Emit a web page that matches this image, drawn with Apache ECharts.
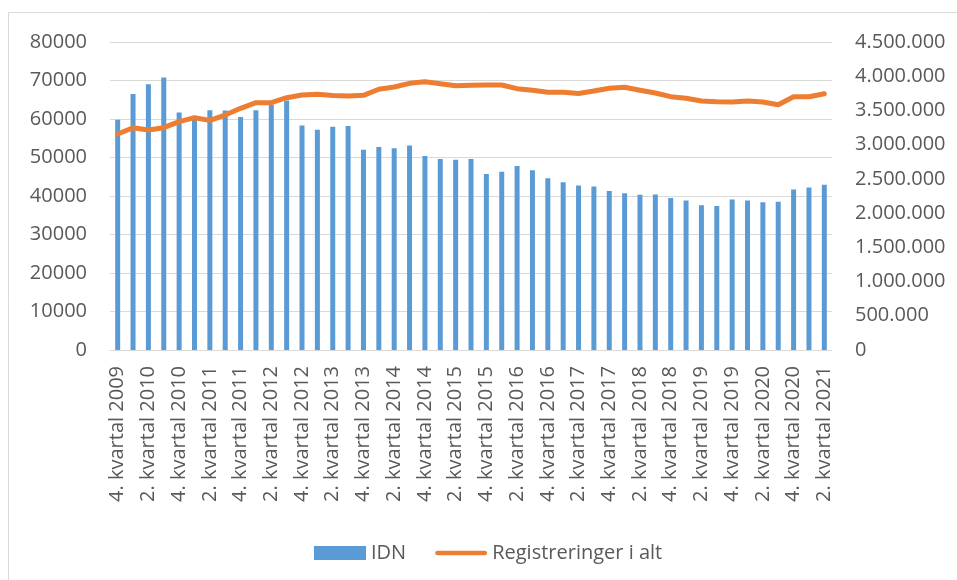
<!DOCTYPE html>
<html>
<head>
<meta charset="utf-8">
<script src="https://cdn.jsdelivr.net/npm/echarts@6/dist/echarts.min.js"></script>
<style>
    html, body { margin: 0; padding: 0; background: #fff; }
    #main { width: 957px; height: 580px; }
</style>
</head>
<body>
<div id="main"></div>
<script>
// kvartaler, 4. kvartal 2009 - 2. kvartal 2021
var kvartaler = [
    '4. kvartal 2009',
    '1. kvartal 2010', '2. kvartal 2010', '3. kvartal 2010', '4. kvartal 2010',
    '1. kvartal 2011', '2. kvartal 2011', '3. kvartal 2011', '4. kvartal 2011',
    '1. kvartal 2012', '2. kvartal 2012', '3. kvartal 2012', '4. kvartal 2012',
    '1. kvartal 2013', '2. kvartal 2013', '3. kvartal 2013', '4. kvartal 2013',
    '1. kvartal 2014', '2. kvartal 2014', '3. kvartal 2014', '4. kvartal 2014',
    '1. kvartal 2015', '2. kvartal 2015', '3. kvartal 2015', '4. kvartal 2015',
    '1. kvartal 2016', '2. kvartal 2016', '3. kvartal 2016', '4. kvartal 2016',
    '1. kvartal 2017', '2. kvartal 2017', '3. kvartal 2017', '4. kvartal 2017',
    '1. kvartal 2018', '2. kvartal 2018', '3. kvartal 2018', '4. kvartal 2018',
    '1. kvartal 2019', '2. kvartal 2019', '3. kvartal 2019', '4. kvartal 2019',
    '1. kvartal 2020', '2. kvartal 2020', '3. kvartal 2020', '4. kvartal 2020',
    '1. kvartal 2021', '2. kvartal 2021'
];

// IDN (venstre akse)
var idn = [
    59800, 66500, 69000, 70800, 61700, 60200, 62300, 62200, 60500, 62300,
    63700, 64800, 58300, 57200, 58000, 58200, 52000, 52700, 52400, 53100,
    50400, 49600, 49400, 49600, 45700, 46300, 47800, 46700, 44600, 43600,
    42700, 42500, 41300, 40700, 40300, 40400, 39500, 38800, 37600, 37400,
    39100, 38800, 38400, 38500, 41700, 42200, 42900
];

// Registreringer i alt (høyre akse)
var registreringer = [
    3155000, 3248000, 3214000, 3248000, 3336000, 3394000, 3355000, 3433000, 3531000, 3614000,
    3614000, 3686000, 3726000, 3735000, 3720000, 3711000, 3721000, 3809000, 3842000, 3896000,
    3920000, 3891000, 3862000, 3867000, 3872000, 3872000, 3818000, 3794000, 3765000, 3765000,
    3748000, 3784000, 3823000, 3838000, 3794000, 3755000, 3701000, 3677000, 3638000, 3628000,
    3623000, 3638000, 3623000, 3584000, 3701000, 3701000, 3745000
];

var tekstFarge = '#595959';
var font = 'Open Sans';

var myChart = echarts.init(document.getElementById('main'));

var option = {
    animation: false,
    textStyle: { fontFamily: font },
    graphic: [{
        type: 'rect',
        shape: { x: 8.5, y: 12.5, width: 1200, height: 1000 },
        style: { fill: 'none', stroke: '#d9d9d9', lineWidth: 1 }
    }],
    grid: { left: 110, right: 125, top: 42, bottom: 230 },
    legend: {
        left: 309,
        top: 538,
        itemWidth: 52,
        itemHeight: 14,
        itemGap: 29,
        symbolKeepAspect: true,
        textStyle: { color: tekstFarge, fontSize: 20, fontFamily: font },
        data: [
            { name: 'IDN', icon: 'rect' },
            {
                name: 'Registreringer i alt',
                // tykk strek med runde ender som i Excel
                icon: 'path://M2.5,0 L54.5,0 A2.5,2.5 0 0 1 54.5,5 L2.5,5 A2.5,2.5 0 0 1 2.5,0 Z',
                itemStyle: { color: '#ED7D31' }
            }
        ]
    },
    xAxis: {
        type: 'category',
        data: kvartaler,
        axisTick: { show: false },
        axisLine: { lineStyle: { color: '#d9d9d9', width: 1 } },
        axisLabel: {
            rotate: 90,
            interval: 1,
            margin: 16,
            color: tekstFarge,
            fontSize: 20,
            fontFamily: font
        }
    },
    yAxis: [{
        type: 'value',
        min: 0,
        max: 80000,
        interval: 10000,
        axisLine: { show: false },
        axisTick: { show: false },
        axisLabel: {
            margin: 23,
            color: tekstFarge,
            fontSize: 20,
            fontFamily: font,
            formatter: function (v) { return String(v); }
        },
        splitLine: { lineStyle: { color: '#d9d9d9', width: 1 } }
    }, {
        type: 'value',
        min: 0,
        max: 4500000,
        interval: 500000,
        axisLine: { show: false },
        axisTick: { show: false },
        splitLine: { show: false },
        axisLabel: {
            margin: 23,
            color: tekstFarge,
            fontSize: 20,
            fontFamily: font,
            formatter: function (v) {
                return String(v).replace(/\B(?=(\d{3})+(?!\d))/g, '.');
            }
        }
    }],
    series: [{
        name: 'IDN',
        type: 'bar',
        yAxisIndex: 0,
        barWidth: 5,
        itemStyle: { color: '#5B9BD5' },
        data: idn
    }, {
        name: 'Registreringer i alt',
        type: 'line',
        yAxisIndex: 1,
        symbol: 'none',
        showSymbol: false,
        itemStyle: { color: '#ED7D31' },
        lineStyle: { color: '#ED7D31', width: 5, cap: 'round', join: 'round' },
        data: registreringer
    }]
};
myChart.setOption(option);
</script>
</body>
</html>
